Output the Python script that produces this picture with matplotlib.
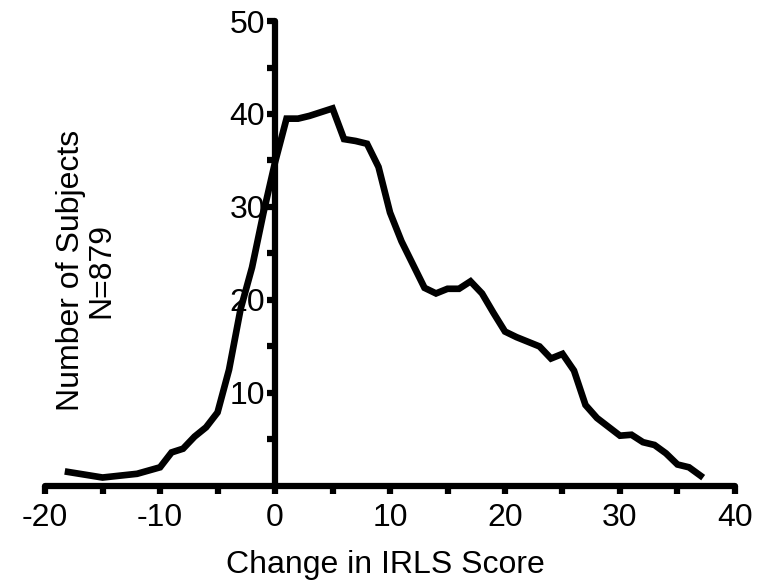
import matplotlib
matplotlib.use('Agg')
import matplotlib.pyplot as plt
from matplotlib.ticker import MultipleLocator

# change in IRLS score vs number of subjects
score = [-18, -15, -12, -10, -9, -8, -7, -6, -5, -4, -3, -2, -1, 0, 1, 2, 3, 5,
         6, 7, 8, 9, 10, 11, 13, 14, 15, 16, 17, 18, 19, 20, 21, 23, 24, 25, 26,
         27, 28, 30, 31, 32, 33, 34, 35, 36, 37]
subjects = [1.5, 0.9, 1.3, 2.0, 3.6, 4.0, 5.3, 6.3, 7.9, 12.5, 19.0, 23.5, 29.4, 34.8,
            39.5, 39.5, 39.8, 40.6, 37.3, 37.1, 36.8, 34.3, 29.4, 26.3, 21.3, 20.7,
            21.2, 21.2, 22.0, 20.7, 18.6, 16.6, 16.0, 15.0, 13.7, 14.2, 12.4,
            8.7, 7.3, 5.4, 5.5, 4.7, 4.4, 3.5, 2.3, 2.0, 1.1]

xticks = [-20, -10, 0, 10, 20, 30, 40]
yticks = [10, 20, 30, 40, 50]

plt.rcParams['font.family'] = ['Liberation Sans', 'DejaVu Sans']

fig = plt.figure(figsize=(7.64, 5.84), dpi=100)
ax = fig.add_axes([0.059, 0.168, 0.903, 0.796])

ax.plot(score, subjects, color='black', lw=4.8, solid_joinstyle='miter',
        clip_on=False, zorder=5)

ax.set_xlim(-20, 40)
ax.set_ylim(0, 50)

for s in ['top', 'right']:
    ax.spines[s].set_visible(False)
ax.spines['left'].set_position(('data', 0))
ax.spines['bottom'].set_position(('data', 0))
for s in ['left', 'bottom']:
    ax.spines[s].set_linewidth(4.5)
    ax.spines[s].set_capstyle('round')

ax.xaxis.set_major_locator(MultipleLocator(5))
ax.yaxis.set_major_locator(MultipleLocator(5))
ax.set_xticks(range(-20, 41, 5))
ax.set_xticklabels([str(v) if v in xticks else '' for v in range(-20, 41, 5)])
ax.set_yticks(range(5, 51, 5))
ax.set_yticklabels([str(v) if v in yticks else '' for v in range(5, 51, 5)])

ax.tick_params(axis='both', direction='out', length=6, width=4.5,
               labelsize=23, color='black')
ax.tick_params(axis='x', pad=6)
ax.tick_params(axis='y', pad=1)

fig.text(0.113, 1 - 270 / 584, 'Number of Subjects\nN=879', rotation=90,
         ha='center', va='center', multialignment='center', fontsize=23,
         linespacing=1.0)
fig.text(0.505, 1 - 565 / 584, 'Change in IRLS Score', ha='center',
         va='center', fontsize=23)

fig.savefig('out.png', dpi=100)
